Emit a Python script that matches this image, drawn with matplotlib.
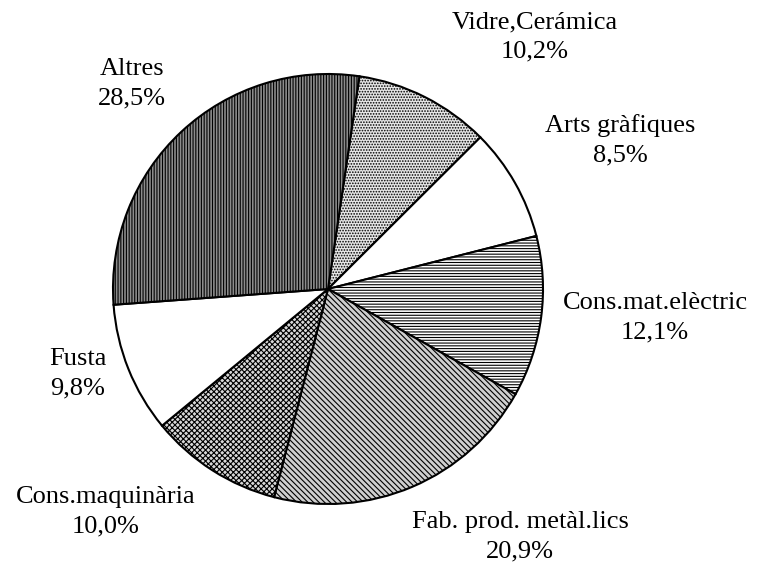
import matplotlib.pyplot as plt

# ==== Data ====
labels = ["Vidre,Cerámica", "Arts gràfiques", "Cons.mat.elèctric",
          "Fab. prod. metàl.lics", "Cons.maquinària", "Fusta", "Altres"]
shares = [10.2, 8.5, 12.1, 20.9, 10.0, 9.8, 28.5]

# ==== Styles ====
faces = ["#e6e6e6", "white", "white", "#cfcfcf", "#d8d8d8", "white", "#8c8c8c"]
hatches = ["......", None, "------", "\\\\\\\\\\\\", "xxxxxx", None, "||||||"]
label_pos = [(535, 37), (620, 140), (655, 318), (520, 537),
             (106, 512), (78, 374), (132, 84)]

W, H = 761, 568
plt.rcParams["font.family"] = ["Liberation Serif", "DejaVu Serif"]
plt.rcParams["hatch.linewidth"] = 0.8

fig = plt.figure(figsize=(W / 100, H / 100), dpi=100)
ax = fig.add_axes([0, 0, 1, 1])

wedges, _ = ax.pie(shares, startangle=81.6, counterclock=False,
                   center=(328, H - 289), radius=215, frame=True,
                   wedgeprops=dict(edgecolor="black", linewidth=1.5))
for w, fc, h in zip(wedges, faces, hatches):
    w.set_facecolor(fc)
    if h:
        w.set_hatch(h)

ax.set_xlim(0, W)
ax.set_ylim(0, H)
ax.set_aspect("equal")
ax.axis("off")

for lab, val, (x, y) in zip(labels, shares, label_pos):
    txt = f"{lab}\n" + f"{val:.1f}".replace(".", ",") + "%"
    ax.text(x, H - y, txt, ha="center", va="center", fontsize=19,
            linespacing=1.45)

fig.savefig("out.png", dpi=100)
